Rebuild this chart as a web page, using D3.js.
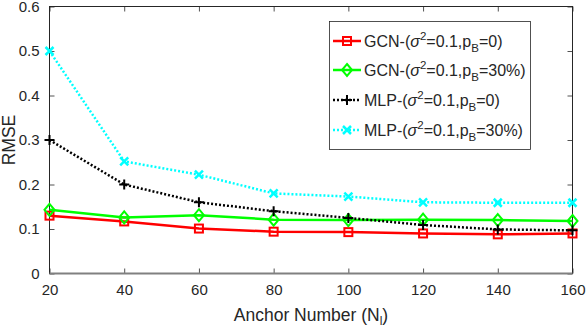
<!DOCTYPE html>
<html>
<head>
<meta charset="utf-8">
<script src="https://cdn.jsdelivr.net/npm/d3@7"></script>
<style>
  body { margin: 0; background: #fff; }
  svg text { font-family: "Liberation Sans", Arial, sans-serif; fill: #262626; }
</style>
</head>
<body>
<svg id="chart" width="586" height="328"></svg>
<script>
// anchor numbers on the x axis
var anchors = [20, 40, 60, 80, 100, 120, 140, 160];
var xTicks = [20, 40, 60, 80, 100, 120, 140, 160];
var yTicks = [0, 0.1, 0.2, 0.3, 0.4, 0.5, 0.6];

// RMSE values
var gcnClean = [0.130, 0.117, 0.101, 0.094, 0.093, 0.090, 0.088, 0.090];
var gcnNoisy = [0.143, 0.126, 0.131, 0.121, 0.120, 0.121, 0.120, 0.118];
var mlpClean = [0.300, 0.200, 0.160, 0.140, 0.125, 0.109, 0.099, 0.097];
var mlpNoisy = [0.500, 0.252, 0.222, 0.180, 0.173, 0.160, 0.159, 0.159];

var seriesNames = ["GCN", "GCN", "MLP", "MLP"];
var seriesPb = ["0", "30%", "0", "30%"];

var series = [
  { vals: gcnClean, color: "#ff0000", dash: null, marker: "square" },
  { vals: gcnNoisy, color: "#00ff00", dash: null, marker: "diamond" },
  { vals: mlpClean, color: "#000000", dash: "2,2", marker: "plus" },
  { vals: mlpNoisy, color: "#00ffff", dash: "2,2", marker: "cross" }
];

var svg = d3.select("#chart");
var mLeft = 49.5, mRight = 572.5, mTop = 6.5, mBottom = 273.5;

var x = d3.scaleLinear().domain([20, 160]).range([mLeft, mRight]);
var y = d3.scaleLinear().domain([0, 0.6]).range([mBottom, mTop]);

// frame
svg.append("rect")
  .attr("x", mLeft).attr("y", mTop)
  .attr("width", mRight - mLeft).attr("height", mBottom - mTop)
  .attr("fill", "none").attr("stroke", "#262626").attr("stroke-width", 1);

// inward ticks on all four sides
svg.append("g").attr("transform", "translate(0," + mBottom + ")")
  .call(d3.axisBottom(x).tickValues(xTicks).tickSize(-5).tickPadding(11).tickFormat(d3.format("d")));
svg.append("g").attr("transform", "translate(0," + mTop + ")")
  .call(d3.axisTop(x).tickValues(xTicks).tickSize(-5).tickFormat(""));
svg.append("g").attr("transform", "translate(" + mLeft + ",0)")
  .call(d3.axisLeft(y).tickValues(yTicks).tickSize(-5).tickPadding(10).tickFormat(function (d) { return d === 0 ? "0" : d3.format(".1f")(d); }));
svg.append("g").attr("transform", "translate(" + mRight + ",0)")
  .call(d3.axisRight(y).tickValues(yTicks).tickSize(-5).tickFormat(""));

svg.selectAll(".domain").remove();
svg.selectAll(".tick line").attr("stroke", "#262626").attr("stroke-width", 0.8);
svg.selectAll(".tick text").attr("font-size", 15).attr("fill", "#262626")
  .style("font-family", "'Liberation Sans', Arial, sans-serif");

// bottom edge looks thicker and lighter in the picture
svg.append("line")
  .attr("x1", mLeft).attr("x2", mRight).attr("y1", mBottom).attr("y2", mBottom)
  .attr("stroke", "#808080").attr("stroke-width", 2);

function drawMarker(g, type, color, cx, cy) {
  if (type === "square") {
    g.append("rect").attr("x", cx - 4).attr("y", cy - 4).attr("width", 8).attr("height", 8)
      .attr("fill", "none").attr("stroke", color).attr("stroke-width", 2);
  } else if (type === "diamond") {
    g.append("path").attr("d", "M" + cx + "," + (cy - 6) + "L" + (cx + 5) + "," + cy + "L" + cx + "," + (cy + 6) + "L" + (cx - 5) + "," + cy + "Z")
      .attr("fill", "none").attr("stroke", color).attr("stroke-width", 2);
  } else if (type === "plus") {
    g.append("path").attr("d", "M" + (cx - 5) + "," + cy + "H" + (cx + 5) + "M" + cx + "," + (cy - 5) + "V" + (cy + 5))
      .attr("stroke", color).attr("stroke-width", 2);
  } else {
    g.append("path").attr("d", "M" + (cx - 4) + "," + (cy - 4) + "L" + (cx + 4) + "," + (cy + 4) + "M" + (cx + 4) + "," + (cy - 4) + "L" + (cx - 4) + "," + (cy + 4))
      .attr("stroke", color).attr("stroke-width", 2.5);
  }
}

var line = d3.line().x(function (d, i) { return x(anchors[i]); }).y(function (d) { return y(d); });

series.forEach(function (s) {
  svg.append("path").datum(s.vals)
    .attr("d", line).attr("fill", "none")
    .attr("stroke", s.color).attr("stroke-width", 2.5)
    .attr("stroke-dasharray", s.dash);
  var g = svg.append("g");
  s.vals.forEach(function (v, i) { drawMarker(g, s.marker, s.color, x(anchors[i]), y(v)); });
});

// legend
var lg = svg.append("g");
lg.append("rect").attr("x", 329.5).attr("y", 21.5).attr("width", 201).attr("height", 128)
  .attr("fill", "#fff").attr("stroke", "#262626").attr("stroke-width", 0.8);
var rowY = [41, 70, 100, 130];
series.forEach(function (s, i) {
  var ry = rowY[i];
  lg.append("line").attr("x1", 333).attr("x2", 361).attr("y1", ry).attr("y2", ry)
    .attr("stroke", s.color).attr("stroke-width", 2.5).attr("stroke-dasharray", s.dash);
  drawMarker(lg, s.marker, s.color, 347, ry);
  var t = lg.append("text").attr("x", 364).attr("y", ry + 6).attr("font-size", 16);
  t.append("tspan").text(seriesNames[i] + "-(");
  t.append("tspan").attr("font-style", "italic").text("σ");
  t.append("tspan").attr("dy", -7).attr("font-size", 11.5).text("2");
  t.append("tspan").attr("dy", 7).text("=0.1,p");
  t.append("tspan").attr("dy", 5).attr("font-size", 11.5).text("B");
  t.append("tspan").attr("dy", -5).text("=" + seriesPb[i] + ")");
});

// axis titles
var xl = svg.append("text").attr("x", 311).attr("y", 321).attr("text-anchor", "middle").attr("font-size", 17.5);
xl.append("tspan").text("Anchor Number (N");
xl.append("tspan").attr("dy", 4).attr("font-size", 12).text("l");
xl.append("tspan").attr("dy", -4).text(")");

svg.append("text").attr("transform", "translate(15,140) rotate(-90)")
  .attr("text-anchor", "middle").attr("font-size", 17.5).text("RMSE");
</script>
</body>
</html>
